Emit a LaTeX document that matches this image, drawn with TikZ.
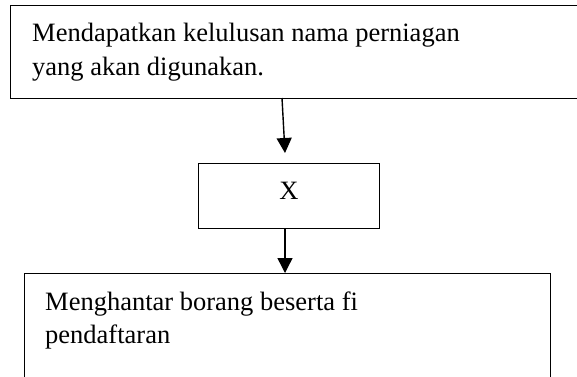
\documentclass[tikz,border=0pt]{standalone}
\usepackage{fontspec}
\setmainfont{Liberation Serif}
\usetikzlibrary{arrows.meta}
\begin{document}
\begin{tikzpicture}[x=1pt,y=-1pt,
  boxstyle/.style={draw=black,line width=1.4pt,rectangle,inner sep=0pt,anchor=north west},
  txt/.style={anchor=base west,inner sep=0pt,font=\fontsize{26.5pt}{34pt}\selectfont},
  arr/.style={line width=1.4pt,-{Triangle[width=15pt,length=15pt]}}]
\clip (0,0) rectangle (577,376);
\useasboundingbox (0,0) rectangle (577,376);
\node[boxstyle,minimum width=620pt,minimum height=93pt] (top) at (10,5) {};
\node[txt] (t1) at (32,41) {Mendapatkan kelulusan nama perniagan};
\node[txt] (t2) at (32,75) {yang akan digunakan.};
\node[boxstyle,minimum width=181pt,minimum height=65pt] (xbox) at (198,163) {};
\node[txt,anchor=base] (xt) at (289,199) {X};
\node[boxstyle,minimum width=526pt,minimum height=140pt] (bot) at (24,273) {};
\node[txt] (b1) at (45,310) {Menghantar borang beserta fi};
\node[txt] (b2) at (45,343) {pendaftaran};
\coordinate (a1s) at (282,98);
\coordinate (a1e) at (285,153);
\draw[arr] (a1s) -- (a1e);
\draw[arr] (xbox.south -| 285,0) -- (285,273);
\end{tikzpicture}
\end{document}
